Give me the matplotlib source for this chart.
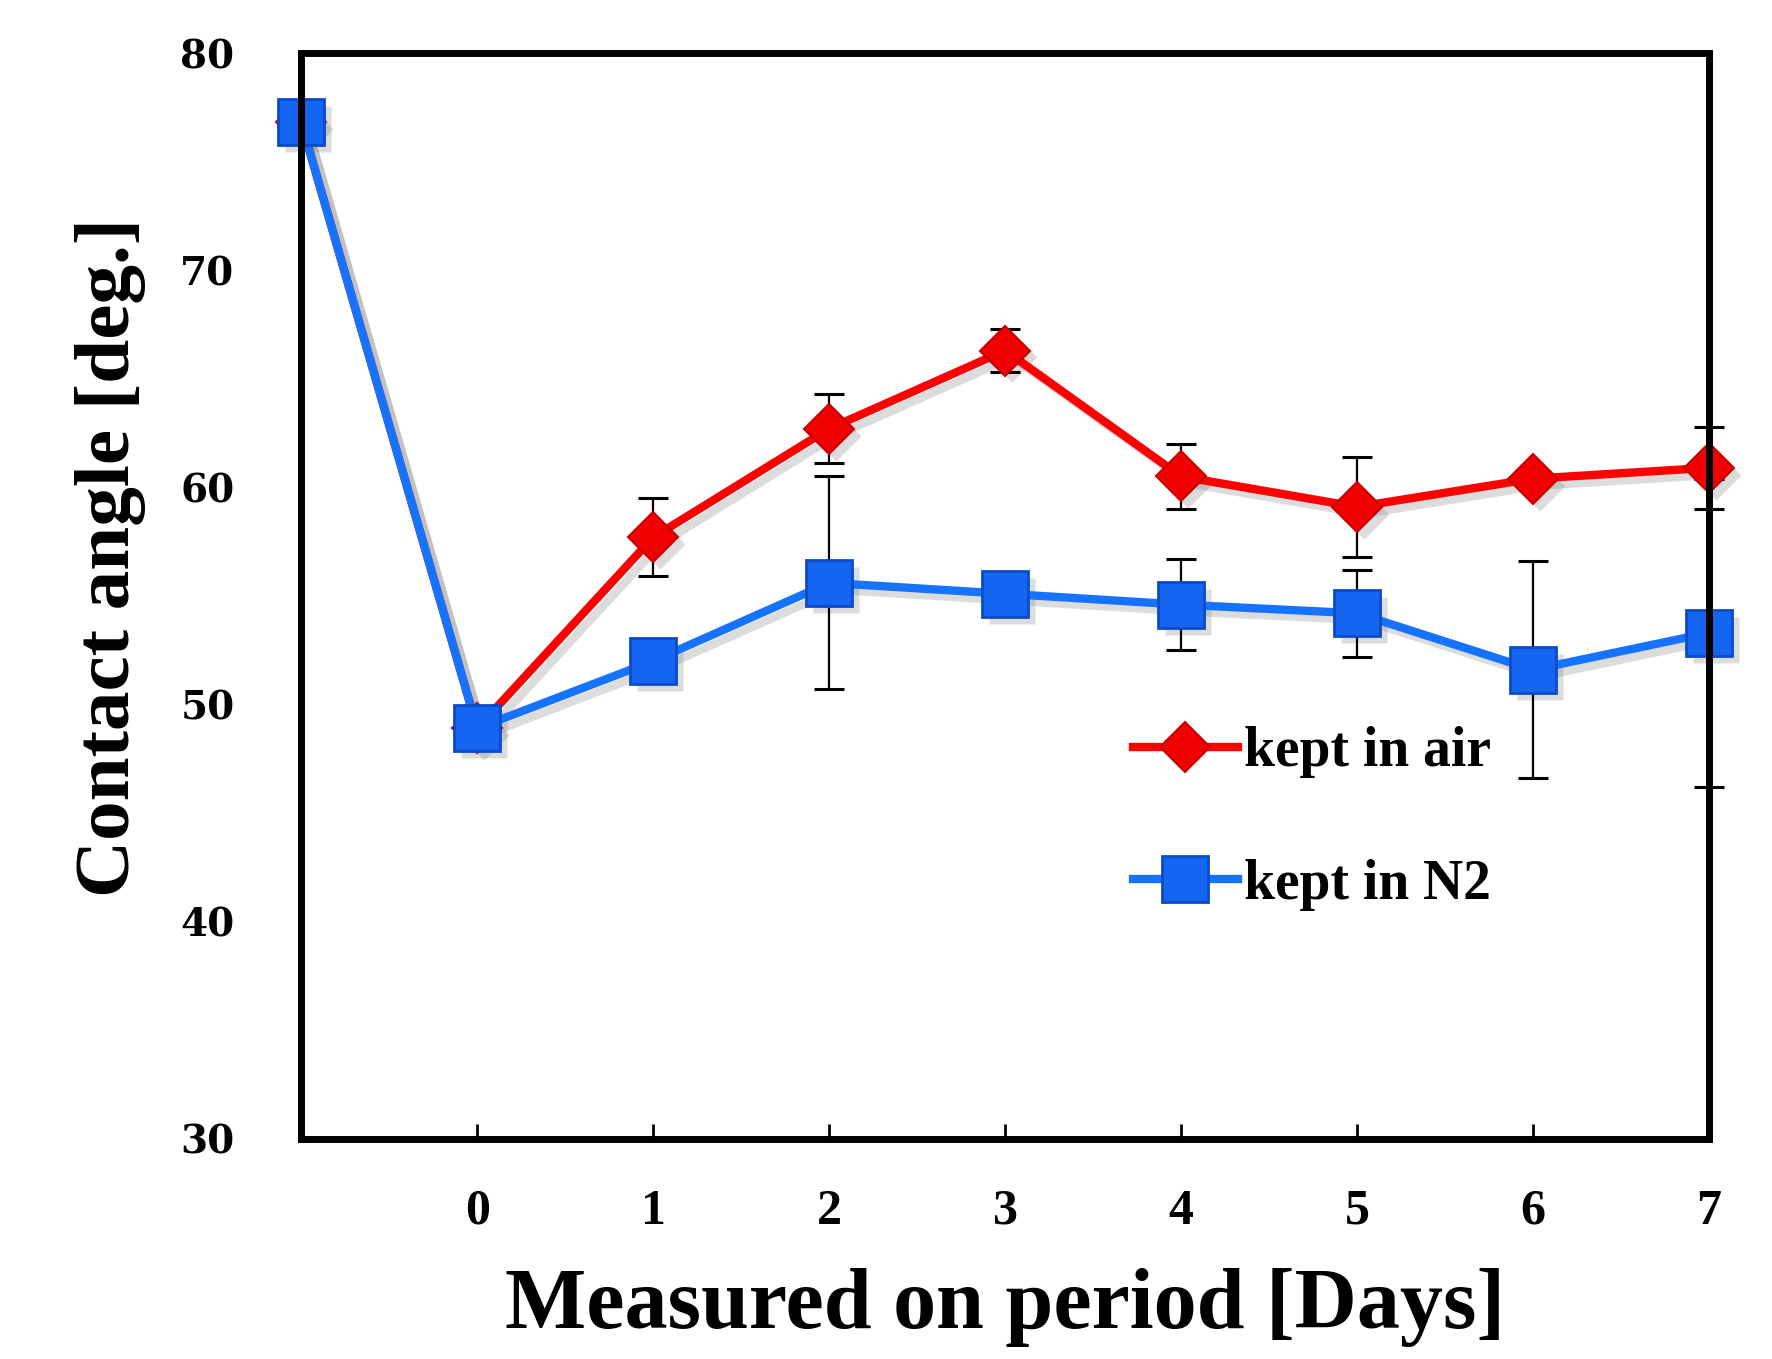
import numpy as np
import matplotlib
matplotlib.use('Agg')
from matplotlib import pyplot as plt
from matplotlib.transforms import ScaledTranslation

# x = -1 is the untreated sample (no tick label)
days = [-1, 0, 1, 2, 3, 4, 5, 6, 7]
tick_days = [0, 1, 2, 3, 4, 5, 6, 7]
tick_labels = ['0', '1', '2', '3', '4', '5', '6', '7']

air = [76.8, 48.9, 57.7, 62.7, 66.3, 60.5, 59.1, 60.4, 60.9]
air_err = [0, 0, 1.8, 1.6, 1.0, 1.5, 2.3, 0, 1.9]

n2 = [76.8, 48.9, 52.0, 55.6, 55.1, 54.6, 54.2, 51.6, 53.3]
n2_err = [0, 0, 0, 4.9, 0, 2.1, 2.0, 5.0, 7.1]

serif = 'Liberation Serif'

fig = plt.figure(figsize=(17.72, 13.59), dpi=100)
ax = fig.add_axes([0.170, 0.162, 0.7945, 0.799])

# error bars sit behind the markers
for vals, errs in [(air, air_err), (n2, n2_err)]:
    eb = ax.errorbar(days, vals, yerr=errs, fmt='none', ecolor='black',
                     elinewidth=1.6, capsize=11, capthick=2.2, zorder=2)
    for c in eb.lines[1]:
        c.set_clip_on(False)

# soft drop shadow: same series shifted down-right in grey
shadow = ax.transData + ScaledTranslation(5/72, -5/72, fig.dpi_scale_trans)
ax.plot(days, air, color='#777777', lw=6, marker='D', ms=25, mec='none',
        alpha=0.25, transform=shadow, zorder=1, clip_on=False)
ax.plot(days, n2, color='#777777', lw=6, marker='s', ms=33, mec='none',
        alpha=0.25, transform=shadow, zorder=1, clip_on=False)

ax.plot(days, air, color='#FF0000', lw=6, marker='D', ms=25,
        mfc='#F00000', mec='#C80000', mew=1.5, label='kept in air',
        zorder=3, clip_on=False)
ax.plot(days, n2, color='#1673FF', lw=6, marker='s', ms=33,
        mfc='#1466F0', mec='#0B4BC8', mew=2, label='kept in N2',
        zorder=4, clip_on=False)

ax.set_xlim(-1, 7)
ax.set_ylim(30, 80)
ax.set_xticks(tick_days)
ax.set_xticklabels(tick_labels, fontfamily=serif, fontweight='bold', fontsize=36)
ax.set_yticks([30, 40, 50, 60, 70, 80])
ax.set_yticklabels(['30', '40', '50', '60', '70', '80'], fontfamily='DejaVu Serif',
                   fontweight='bold', fontsize=28)
ax.tick_params(axis='x', direction='in', length=11, width=2, pad=36)
ax.tick_params(axis='y', length=0, pad=48)

for s in ax.spines.values():
    s.set_linewidth(5)
    s.set_zorder(5)

ax.set_xlabel('Measured on period [Days]', fontfamily=serif, fontweight='bold',
              fontsize=62, labelpad=24)
ax.set_ylabel('Contact angle [deg.]', fontfamily=serif, fontweight='bold',
              fontsize=57)
ax.yaxis.set_label_coords(-0.110, 0.535)

ax.legend(loc='center left', bbox_to_anchor=(0.555, 0.295), frameon=False,
          prop={'family': serif, 'weight': 'bold', 'size': 40},
          handlelength=1.9, handletextpad=0.1, labelspacing=1.45)

fig.savefig('out.png', dpi=100)
